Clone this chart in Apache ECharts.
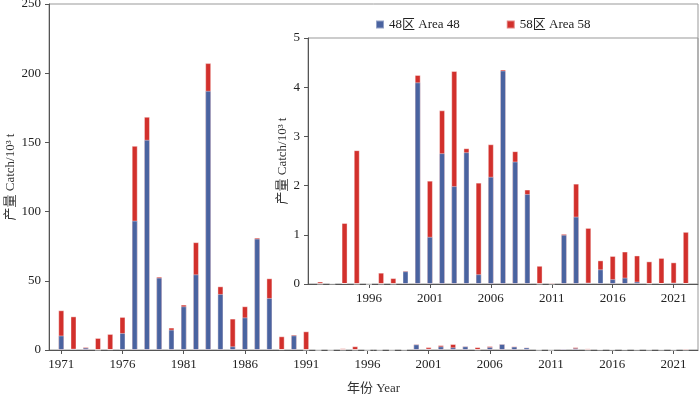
<!DOCTYPE html>
<html>
<head>
<meta charset="utf-8">
<script src="https://cdn.jsdelivr.net/npm/echarts@6/dist/echarts.min.js"></script>
<style>
    html, body { margin: 0; padding: 0; background: #fff; }
    #chart { width: 700px; height: 394px; }
</style>
</head>
<body>
<div id="chart"></div>
<script>
// catch by area, 10^3 t, 1971 - 2022
var years = [1971, 1972, 1973, 1974, 1975, 1976, 1977, 1978, 1979, 1980,
    1981, 1982, 1983, 1984, 1985, 1986, 1987, 1988, 1989, 1990,
    1991, 1992, 1993, 1994, 1995, 1996, 1997, 1998, 1999, 2000,
    2001, 2002, 2003, 2004, 2005, 2006, 2007, 2008, 2009, 2010,
    2011, 2012, 2013, 2014, 2015, 2016, 2017, 2018, 2019, 2020,
    2021, 2022]
var area48 = [10.5, 1, 1.7, 0, 0.5, 12.3, 93.5, 151.9, 52.3, 14.7,
    31.6, 54.7, 187.3, 40.5, 2.7, 23.6, 80.5, 37.6, 0.5, 10.6,
    0, 0, 0, 0.02, 0, 0, 0, 0, 0.26, 4.1,
    0.96, 2.66, 1.99, 2.68, 0.2, 2.18, 4.34, 2.49, 1.83, 0,
    0, 1.0, 1.37, 0.03, 0.3, 0.1, 0.13, 0.05, 0.01, 0.02,
    0.03, 0.02]
var area58 = [18.2, 23.3, 0.5, 8.7, 11.1, 11.6, 54, 16.6, 0.7, 1.5,
    1.2, 23.2, 20, 5.5, 20, 8, 0.7, 14.2, 9.4, 0.5,
    13.5, 0.05, 0.02, 1.22, 2.72, 0, 0.23, 0.12, 0.01, 0.15,
    1.14, 0.87, 2.34, 0.08, 1.86, 0.66, 0.02, 0.21, 0.09, 0.37,
    0.03, 0.02, 0.67, 1.11, 0.18, 0.47, 0.53, 0.53, 0.45, 0.51,
    0.41, 1.04]
var mainYears = [1971, 1976, 1981, 1986, 1991, 1996, 2001, 2006, 2011, 2016, 2021]
var insetYears = [1996, 2001, 2006, 2011, 2016, 2021]
var mainTicks = [0, 50, 100, 150, 200, 250]
var insetTicks = [0, 1, 2, 3, 4, 5]
var names = ['48区 Area 48', '58区 Area 58']

var font = "'Liberation Serif', 'Times New Roman', 'Noto Sans CJK SC', serif"
var blue = '#4a63a0'
var red = '#d2302c'

// [year, value] pairs; inset starts at 1992
// red bar is drawn as the total (48 + 58) behind the blue one -> looks stacked
function pairs(from, withTop) {
    var out = []
    years.forEach(function (y, i) {
        if (y >= from) out.push([y, withTop ? area48[i] + area58[i] : area48[i]])
    })
    return out
}

function xAxis(idx, min, max, ticks) {
    return {
        type: 'value',
        gridIndex: idx,
        min: min,
        max: max,
        axisLine: { show: true, onZero: false, lineStyle: { color: '#555', width: 1 } },
        axisTick: { show: true, length: 4, customValues: ticks, lineStyle: { color: '#555' } },
        axisLabel: {
            customValues: ticks,
            formatter: function (v) { return String(v) },
            color: '#222', fontSize: 13, fontFamily: font, margin: 8,
        },
        splitLine: { show: false },
    }
}

function yAxis(idx, ticks, gap) {
    return {
        type: 'value',
        gridIndex: idx,
        min: ticks[0],
        max: ticks[ticks.length - 1],
        interval: ticks[1] - ticks[0],
        name: '产量 Catch/10³ t',
        nameLocation: 'middle',
        nameGap: gap,
        nameMoveOverlap: false,
        nameTextStyle: { color: '#333', fontSize: 13, fontFamily: font },
        axisLine: { show: true, lineStyle: { color: '#555', width: 1 } },
        axisTick: { show: true, length: 4, lineStyle: { color: '#555' } },
        axisLabel: { color: '#222', fontSize: 13, fontFamily: font, margin: 8 },
        splitLine: { show: false },
    }
}

function bars(name, color, idx, data) {
    return {
        name: name,
        type: 'bar',
        xAxisIndex: idx,
        yAxisIndex: idx,
        barWidth: 6,
        barGap: '-100%',
        data: data,
        itemStyle: { color: color, borderColor: 'rgba(255,255,255,0.4)', borderWidth: 1 },
    }
}

var chart = echarts.init(document.getElementById('chart'), null, { renderer: 'canvas' })
var mainX = xAxis(0, 1970, 2023, mainYears)
mainX.name = '年份 Year'
mainX.nameLocation = 'middle'
mainX.nameGap = 32
mainX.nameMoveOverlap = false
mainX.nameTextStyle = { color: '#333', fontSize: 13, fontFamily: font }

chart.setOption({
    animation: false,
    backgroundColor: '#fff',
    textStyle: { fontFamily: font },
    legend: {
        data: names,
        left: 370,
        top: 13,
        icon: 'rect',
        itemWidth: 8,
        itemHeight: 8,
        itemGap: 46,
        textStyle: { color: '#222', fontSize: 13, fontFamily: font },
    },
    grid: [
        { left: 49, right: 2, top: 4, bottom: 44, outerBoundsMode: 'none', containLabel: false, show: true, borderColor: '#999', borderWidth: 1 },
        { left: 308, right: 2, top: 38, bottom: 110, outerBoundsMode: 'none', containLabel: false, show: true, borderColor: '#999', borderWidth: 1 },
    ],
    xAxis: [
        mainX,
        xAxis(1, 1991, 2023, insetYears),
    ],
    yAxis: [
        yAxis(0, mainTicks, 32),
        yAxis(1, insetTicks, 19),
    ],
    // red (total) first, blue drawn over it
    series: [
        bars(names[1], red, 0, pairs(1971, true)),
        bars(names[0], blue, 0, pairs(1971, false)),
        bars(names[1], red, 1, pairs(1992, true)),
        bars(names[0], blue, 1, pairs(1992, false)),
    ],
})
</script>
</body>
</html>
